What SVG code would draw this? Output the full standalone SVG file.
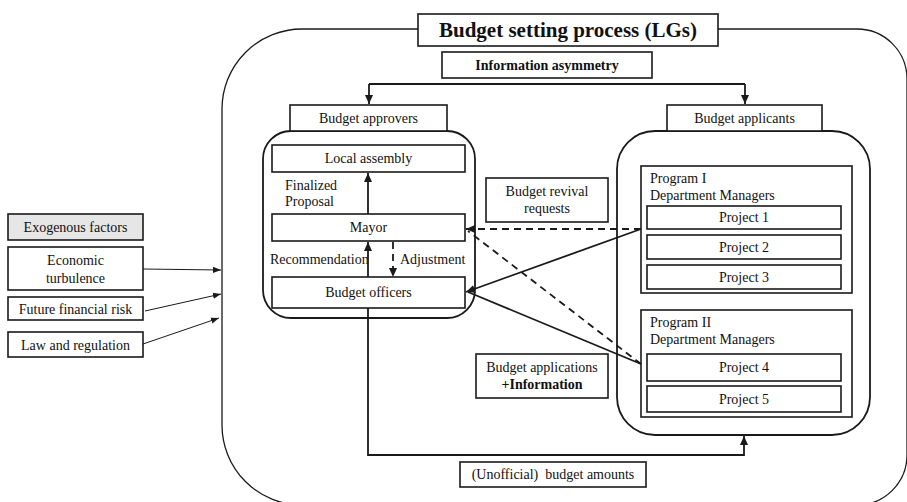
<svg xmlns="http://www.w3.org/2000/svg" width="907" height="502" viewBox="0 0 907 502">
<style>
  text { font-family: "Liberation Serif", "Times New Roman", serif; fill: #111; }
  .t { font-size: 14px; }
  .c { text-anchor: middle; }
  .b { font-weight: bold; }
  .box { fill: #fff; stroke: #1a1a1a; stroke-width: 1.6; }
  .cont { fill: none; stroke: #1a1a1a; stroke-width: 1.8; }
  .ln { fill: none; stroke: #1a1a1a; stroke-width: 1.8; }
  .dash { stroke-dasharray: 7 5; }
  .thin { fill: none; stroke: #1a1a1a; stroke-width: 1; }
</style>
<defs>
  <marker id="ah" markerUnits="userSpaceOnUse" markerWidth="10" markerHeight="10" viewBox="0 0 10 10" refX="9" refY="5" orient="auto">
    <path d="M0,1 L9,5 L0,9 Z" fill="#1a1a1a"/>
  </marker>
  <marker id="ahs" markerUnits="userSpaceOnUse" markerWidth="9" markerHeight="9" viewBox="0 0 10 10" refX="9" refY="5" orient="auto">
    <path d="M0,1.5 L9,5 L0,8.5 Z" fill="#1a1a1a"/>
  </marker>
</defs>
<rect width="907" height="502" fill="#fff"/>

<g id="outer">
  <path class="thin" style="stroke-width:1.3" d="M302,29 H857 A50,50 0 0 1 907,79 V455 A50,50 0 0 1 857,505 H302 A80,80 0 0 1 222,425 V109 A80,80 0 0 1 302,29 Z"/>
</g>

<g id="title">
  <rect class="box" x="418" y="14" width="300" height="32"/>
  <text class="c b" x="568" y="37" style="font-size:21px">Budget setting process (LGs)</text>
</g>

<g id="info-asymmetry">
  <rect class="box" x="442" y="52" width="210" height="26"/>
  <text class="c b" x="547" y="70" style="font-size:14px">Information asymmetry</text>
</g>

<g id="approvers-container">
  <rect class="cont" x="263" y="131" width="212" height="187" rx="28"/>
</g>
<g id="budget-approvers">
  <rect class="box" x="290" y="105" width="157" height="26"/>
  <text class="t c" x="368.5" y="123">Budget approvers</text>
</g>
<g id="local-assembly">
  <rect class="box" x="272" y="145" width="193" height="27"/>
  <text class="t c" x="368.5" y="163">Local assembly</text>
</g>
<g id="mayor">
  <rect class="box" x="272" y="214" width="193" height="27"/>
  <text class="t c" x="368.5" y="232">Mayor</text>
</g>
<g id="budget-officers">
  <rect class="box" x="272" y="277" width="193" height="31"/>
  <text class="t c" x="368.5" y="297">Budget officers</text>
</g>

<g id="applicants-container">
  <rect class="cont" x="617" y="131" width="253" height="304" rx="38"/>
</g>
<g id="budget-applicants">
  <rect class="box" x="667" y="105" width="155" height="26"/>
  <text class="t c" x="744.5" y="123">Budget applicants</text>
</g>
<g id="program1">
  <rect class="box" x="641" y="166" width="211" height="127"/>
  <text class="t" x="650" y="183">Program I</text>
  <text class="t" x="650" y="200">Department Managers</text>
</g>
<g id="project1">
  <rect class="box" x="647" y="206" width="194" height="23"/>
  <text class="t c" x="744" y="222">Project 1</text>
</g>
<g id="project2">
  <rect class="box" x="647" y="235" width="194" height="24"/>
  <text class="t c" x="744" y="252">Project 2</text>
</g>
<g id="project3">
  <rect class="box" x="647" y="265" width="194" height="24"/>
  <text class="t c" x="744" y="282">Project 3</text>
</g>
<g id="program2">
  <rect class="box" x="641" y="310" width="211" height="107"/>
  <text class="t" x="650" y="327">Program II</text>
  <text class="t" x="650" y="344">Department Managers</text>
</g>
<g id="project4">
  <rect class="box" x="647" y="354" width="194" height="27"/>
  <text class="t c" x="744" y="372">Project 4</text>
</g>
<g id="project5">
  <rect class="box" x="647" y="386" width="194" height="26"/>
  <text class="t c" x="744" y="404">Project 5</text>
</g>

<g id="revival-requests">
  <rect class="box" x="486" y="178" width="122" height="44"/>
  <text class="t c" x="547" y="196">Budget revival</text>
  <text class="t c" x="547" y="213">requests</text>
</g>
<g id="applications-info">
  <rect class="box" x="476" y="354" width="132" height="44"/>
  <text class="t c" x="542" y="372">Budget applications</text>
  <text class="t c b" x="542" y="389">+Information</text>
</g>
<g id="unofficial-amounts">
  <rect class="box" x="460" y="462" width="186" height="25"/>
  <text class="t c" x="553" y="479" xml:space="preserve">(Unofficial)  budget amounts</text>
</g>

<g id="exogenous-factors">
  <rect x="8" y="214" width="135" height="26" fill="#e6e6e6" stroke="#1a1a1a" stroke-width="1.6"/>
  <text class="t c" x="75.5" y="232">Exogenous factors</text>
</g>
<g id="economic-turbulence">
  <rect class="box" x="8" y="247" width="135" height="43"/>
  <text class="t c" x="75.5" y="265">Economic</text>
  <text class="t c" x="75.5" y="283">turbulence</text>
</g>
<g id="future-financial-risk">
  <rect class="box" x="8" y="297" width="135" height="23"/>
  <text class="t c" x="75.5" y="314">Future financial  risk</text>
</g>
<g id="law-regulation">
  <rect class="box" x="8" y="332" width="135" height="25"/>
  <text class="t c" x="75.5" y="350">Law and regulation</text>
</g>

<g id="labels">
  <text class="t" x="285" y="190">Finalized</text>
  <text class="t" x="285" y="206">Proposal</text>
  <text class="t" x="270" y="264">Recommendation</text>
  <text class="t" x="400" y="264">Adjustment</text>
</g>

<g id="connectors">
  <path class="ln" d="M369,84 H745"/>
  <path class="ln" d="M369,84 V104" marker-end="url(#ah)"/>
  <path class="ln" d="M745,84 V104" marker-end="url(#ah)"/>
  <path class="ln" d="M368,214 V173" marker-end="url(#ah)"/>
  <path class="ln" d="M368,277 V242" marker-end="url(#ah)"/>
  <path class="ln dash" d="M393,242 V277" marker-end="url(#ah)"/>
  <path class="ln" d="M368,308 V455 H744 V436" marker-end="url(#ah)"/>
  <path class="ln dash" d="M641,229 H466" marker-end="url(#ah)"/>
  <path class="ln dash" d="M641,364 L468,231"/>
  <path class="ln" d="M641,229 L466,292" marker-end="url(#ah)"/>
  <path class="ln" d="M641,364 L468,292"/>
  <path class="thin" d="M143,269 L221,270" marker-end="url(#ahs)"/>
  <path class="thin" d="M145,311 L221,294" marker-end="url(#ahs)"/>
  <path class="thin" d="M143,344 L219,318" marker-end="url(#ahs)"/>
</g>
</svg>
